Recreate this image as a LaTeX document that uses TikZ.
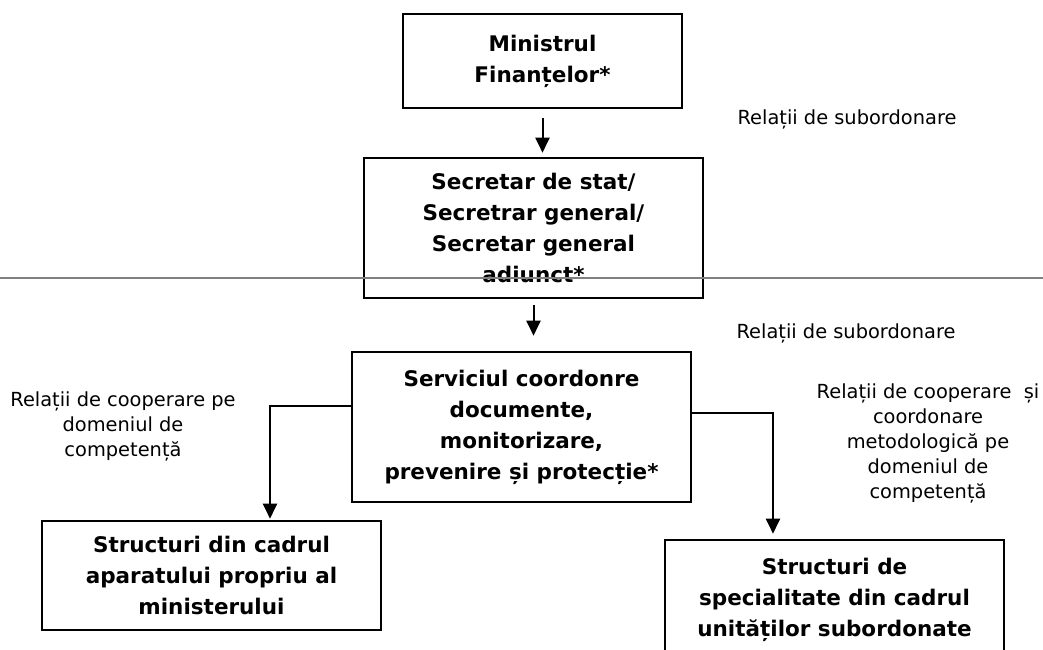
\documentclass[tikz,border=0pt]{standalone}
\usepackage{fontspec}
\setmainfont{DejaVu Sans}
\usetikzlibrary{arrows.meta}

\begin{document}
\begin{tikzpicture}[x=1pt,y=-1pt,
		box/.style={draw, line width=2.6pt, align=center, inner sep=0pt,
			minimum width=339pt, font=\fontsize{21.5}{31}\selectfont\bfseries},
		lbl/.style={align=center, inner sep=0pt, font=\fontsize{19.4}{25}\selectfont},
		conn/.style={line width=2pt, -{Triangle[length=15pt,width=14pt]}}]
			\clip (0,0) rectangle (1043,649);
			\node[box, minimum width=279pt, minimum height=94pt] (min) at (542.5,61) {Ministrul\\Finanțelor*};
			\node[box, minimum height=140pt] (sec) at (533.5,228) {Secretar de stat/\\Secretrar general/\\Secretar general\\adiunct*};
			\node[box, minimum height=150pt] (serv) at (521.5,427) {Serviciul coordonre\\documente,\\monitorizare,\\prevenire și protecție*};
			\node[box, minimum height=109pt] (aparat) at (211.5,575.5) {Structuri din cadrul\\aparatului propriu al\\ministerului};
			\node[box, minimum height=120pt] (unit) at (834.5,600) {Structuri de\\specialitate din cadrul\\unităților subordonate};
			\draw[black!50, line width=1.5pt] (0,278) -- (1043,278);
			\draw[conn, shorten <=9pt, shorten >=4pt] (min.south) -- (min.south |- sec.north);
			\draw[conn, shorten <=6pt, shorten >=15pt] (sec.south) -- (sec.south |- serv.north);
			\draw[conn, shorten >=1pt] ([yshift=21pt]serv.west) -| ([xshift=58.5pt]aparat.north);
			\draw[conn, shorten >=5pt] ([yshift=14pt]serv.east) -| ([xshift=-61.5pt]unit.north);
			\node[lbl, anchor=base] (sub1) at (847,124) {Relații de subordonare};
			\node[lbl, anchor=base] (sub2) at (846,338) {Relații de subordonare};
			\node[lbl] (coopst) at (123,426.5) {Relații de cooperare pe\\domeniul de\\competență};
			\node[lbl] (coopdr) at (928,443) {Relații de cooperare\ \ și\\coordonare\\metodologică pe\\domeniul de\\competență};
		\end{tikzpicture}
\end{document}
